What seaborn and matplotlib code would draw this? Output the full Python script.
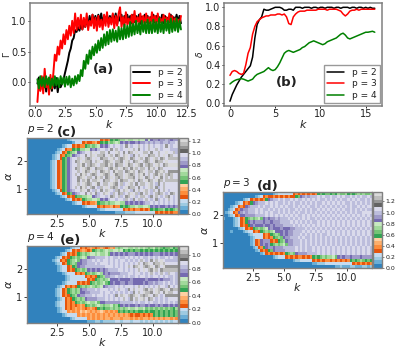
import numpy as np
import pandas as pd
import matplotlib
matplotlib.use("Agg")
import matplotlib.pyplot as plt
import seaborn as sns

# panel (a)
gamma_p2 = [-0.02,0.08,-0.12,0.05,-0.1,0.1,-0.15,0.02,-0.08,0.06,-0.14,0.03,-0.1,0.07,-0.16,0.0,-0.08,-0.02,0.05,0.15,0.25,0.35,0.48,0.55,0.68,0.72,0.85,0.82,0.9,0.84,0.95,0.86,0.98,0.9,1.02,0.92,1.08,0.95,1.1,0.98,1.08,0.96,1.1,1.0,1.12,0.95,1.08,1.0,1.1,0.96,1.08,0.98,1.1,1.0,1.12,0.95,1.08,1.0,1.1,0.96,1.08,0.98,1.1,1.0,1.08,0.96,1.1,0.98,1.08,1.0,1.1,0.95,1.07,1.0,1.1,0.98,1.08,0.96,1.06,1.0,1.1,0.97,1.08,1.0,1.06,0.98,1.1,0.96,1.08,1.0,1.05,0.98,1.1,0.97,1.06,1.0,1.1,0.98,1.08,0.96]
gamma_p3 = [-0.32,0.02,-0.14,0.1,-0.18,0.22,-0.08,0.05,-0.2,0.12,-0.1,0.15,0.45,0.35,0.58,0.45,0.68,0.55,0.78,0.62,0.85,0.7,0.92,0.76,1.0,0.8,1.12,0.85,1.05,0.88,1.1,0.86,1.05,0.9,1.12,0.85,1.0,0.92,1.1,0.88,1.05,0.84,1.08,0.9,1.02,0.86,1.1,0.92,1.14,0.9,1.05,0.94,1.12,0.88,1.08,0.92,1.12,1.22,0.9,1.06,0.9,1.14,0.94,1.04,0.9,1.1,0.96,1.16,0.92,1.06,0.98,1.12,0.94,1.08,0.92,1.12,0.96,1.06,0.94,1.14,0.98,1.08,0.92,1.12,0.96,1.04,0.94,1.1,0.98,1.06,0.92,1.12,0.95,1.08,0.9,1.04,0.98,1.02,0.94,1.08]
gamma_p4 = [0.05,-0.1,0.1,-0.06,0.08,-0.08,0.1,-0.04,0.08,-0.1,0.06,-0.06,0.1,-0.05,0.07,-0.08,0.1,-0.03,0.08,-0.07,0.09,-0.04,0.1,-0.08,0.06,-0.05,0.1,-0.02,0.12,0.02,0.2,0.1,0.35,0.22,0.45,0.3,0.52,0.38,0.58,0.44,0.62,0.48,0.68,0.52,0.72,0.56,0.78,0.6,0.82,0.62,0.85,0.66,0.86,0.68,0.84,0.66,0.9,0.7,0.88,0.7,0.94,0.72,0.92,0.74,0.98,0.76,0.95,0.78,1.0,0.8,0.96,0.78,1.0,0.82,0.98,0.8,1.02,0.8,0.98,0.8,1.02,0.82,0.98,0.8,1.04,0.82,0.98,0.8,1.02,0.84,1.0,0.8,1.04,0.82,1.0,0.84,1.04,0.82,1.0,0.86]

# panel (b)
delta_p2 = [0.02,0.09,0.14,0.19,0.23,0.27,0.3,0.33,0.36,0.39,0.48,0.68,0.82,0.87,0.9,0.98,0.97,0.97,0.98,0.99,1.0,1.0,1.0,0.99,0.97,0.97,0.98,0.98,0.97,1.0,1.0,1.0,0.99,1.0,1.0,1.0,0.99,1.0,1.0,0.99,1.0,1.0,0.99,1.0,1.0,1.0,0.99,1.0,1.0,0.99,1.0,1.0,1.0,0.99,1.0,1.0,0.99,1.0,1.0,0.99,1.0,0.99,1.0,0.99,0.99]
delta_p3 = [0.29,0.33,0.34,0.33,0.31,0.3,0.31,0.4,0.52,0.58,0.72,0.8,0.85,0.87,0.89,0.9,0.91,0.91,0.92,0.92,0.92,0.93,0.93,0.92,0.93,0.9,0.83,0.82,0.9,0.93,0.95,0.96,0.96,0.96,0.97,0.97,0.97,0.97,0.97,0.98,0.98,0.98,0.98,0.97,0.98,0.98,0.98,0.98,0.97,0.96,0.93,0.91,0.93,0.96,0.97,0.97,0.98,0.97,0.98,0.98,0.98,0.98,0.98,0.98,0.98]
delta_p4 = [0.2,0.22,0.235,0.245,0.25,0.255,0.25,0.24,0.23,0.24,0.25,0.28,0.3,0.31,0.32,0.33,0.35,0.37,0.35,0.34,0.35,0.38,0.42,0.47,0.52,0.54,0.55,0.54,0.53,0.54,0.55,0.56,0.58,0.59,0.61,0.63,0.64,0.65,0.64,0.63,0.62,0.61,0.62,0.64,0.65,0.66,0.67,0.68,0.7,0.72,0.73,0.71,0.68,0.67,0.68,0.69,0.7,0.71,0.72,0.73,0.74,0.74,0.745,0.75,0.74]

# heatmaps: one char = one tab20c band, top row is the highest alpha
grid_c = [
    "0000000000000000123333333333345458989aabaabbabbcbcddcddedcdd",
    "00000000000000000013334544564898a9abacdcdccdcddededeedeedeef",
    "00000000000000123345455" "89a9abcdcefeffefhfeffifefifeffefhfeff",
    "000000000000123455" "898aabbcdceffefhfifeffjfifhfefiffifefffe",
    "0000000000012345" "89abcdeffifjfiifhffjifhfhifjffiifhffiffjffie",
    "000000000012345" "89acdeffhfijfiihfjifhifijfehfifjfhiififjfhif",
    "00000000001234" "89ceffijfihifjfhiifjifihijfhifjifhifjifhifi",
    "00000000012345" "89cefhifjiihfijfihijfiihfjifhijfihifjhiifjff",
    "00000000012345" "89ceffijhfihijfiihjifhiifjhifjihfihifjifhij",
    "00000000012345" "89cefhifjihjfhiijfihjifjhifhjifiifhjifhif",
    "00000000012345" "89ceffifjhifjifhijifhjiifhijifhijfiifhijifh",
    "00000000012345" "89cefifhjifihifjihifjhiifjihifijhfifihjifihif",
    "00000000012345" "89ceffhijfiifhjifhijfihifjiihfijfhififjhfifif",
    "00000000012345" "89ceffhfijhfiijfhiifjifhiifjifhifjhifjhifi",
    "00000000012345" "89ceffifjihifjhfiifjihfiefjifhfiifjifehfiff",
    "00000000012345" "89cefifhjifihfeifjfihifefjhiifhfefjifhefiff",
    "00000000001234" "89cdeffijfhfeifhfijfeihfijfehfifjifeifhfifef",
    "0000000000012345" "89cdeffhfifhefijfeifhiefijfiehfifefihifefhife",
    "0000000000000123454" "899aabbcdeffefhifiefhifjefiifehfifefihfefifefefhf",
    "000000000000000123" "454589aabbacdceffeffeifehfiefifefhefefifefefe",
    "000000000000000000123345" "4556899a9aabbaacdcdcdcdeefefefefefefefeefe",
    "0000000000000000000000123333" "4545564558989aabaabbacdcdccdcdcdc",
    "0000000000000000000000000000122333333345454554545" "89899a8989a9",
    "00000000000000000000000000000000000111122223333333345454545",
]
grid_d = [
    "0000000000000000000012333333454545454589899898a99a8989a9a99a8",
    "00000000000001234544545454544" "89cdedeeefefeefeefefeefefefeefeefefeef",
    "00000000123454545" "8cdeefefeefefeefefefefeefefefefeefefefeefefef",
    "00000123454" "8cdeeefefefeefefefeefefefefeefefefefefeefefefefef",
    "000123454cdeeefefeefefefefeefefefefeefefefefefefefefeefefef",
    "0012345cddeeefefeefefefefefeefefefefeefefefefefefeefefefefe",
    "012345cdedeeefefefefeefefefefefeefefefefefefefefefefefeef",
    "0012345ccddddeeeefefefefefefefeefefefefefefefefefefefefefefe",
    "100012345" "89a9ab9cdcddedeeefefefefefeefefefefefefefefefefefefefefef",
    "000012345" "8cdcdddcddcdddeeeefefefefefeefefefefefefefefefefefefe",
    "0000123454" "8cdcccdccdcdddeeeefefefefefefefefefefefefefefefefefe",
    "000000123454" "89a9abcdcccdcccddeeeefefefefefefefefefefefefefefefef",
    "000100001233454" "89a9abcccdcddeeeefefefefefefefefefefefefefefefefef",
    "0000000000123333454" "89a9cdcddeeefefefefefeefefefefefefefefefefefefe",
    "00000000000123334545" "89a9cddeeefefeefefefefefefefefefefefefefefef",
    "00000000000124" "5cddd45489acddeeefefefefefefefefefefefefefefefefefef",
    "0000000000012" "45cdcd89a9ab9ddeeefefefefefefefefefefefefefefefefefe",
    "00000000000012458cddcdddeeeeefefefeefefefefefefefefefefefefefe",
    "0000000000000124548" "9cddddeeeefefefeefefefefefefefefefefefefefefe",
    "0000000000000001245454545" "89a9cddddeeeefefefefefefefefefefefefefe",
    "0000000000000000000012333" "454545545458989a9aab9cdcddcdddcdddd",
    "000000000000000000000000000012233333454545545454545" "8989a9898a",
    "0000000000000000000000000000000000001122233333333333" "45454545",
    "000000000000000000000000000000000000000000000112111221112212",
]
grid_e = [
    "00000000000000000123345456545654565a9abbaabababa9ab9a9899a89",
    "00000000000000012345456545" "89a9abaabbab898989989898989898989898",
    "00000000000001234545" "89a9abbabaab9cdcdcdcdddcdcdcdcdddcdcdcdcd",
    "00000000000123454" "89a9abacddeeeefefeefeefefefefeefefefeefefe",
    "0000000000123454" "89ab9cddeefefeffefefeffefefefifefhfifjfe",
    "0000000000012345" "89a9ccddeeefefffefefefefefefifhijfhiijif",
    "000000000000123345" "89cddeeeeeeeefffefefefifhijfihijfhifjh",
    "0000000000001233454" "89a9acdcdcdcdeeeeffefefefifjfihjifhi",
    "00000000000000123334545" "89a9abacdcddddeeeffeffefefifefifeiffef",
    "00000000000000012333333" "4545489addeefeefefeefeffefeffefefeefefef",
    "000000000000000123333333454" "89a9abcccdccccdcccccdccccdcdddefefefef",
    "00000000000000123333454548" "9a9ab98cdccddcddccccdcddedeefefefef",
    "00000000000012345454" "89a9aba9abcdeeefefefffefifefefefiffehfef",
    "0000000000012345" "89a9acddeeefefffefefiffehfifjfihjifjihijfhi",
    "0000000000012345" "89a9accddeeeefeffefefefefehfifjiihfjifhjiif",
    "00000000000123454" "89acddeeefeffefefehfijfihijfihijfhifefh",
    "000000000000123454" "89a9acddddeeefefefefifehfifjifhifefefef",
    "0000000000012334545" "89a9abaab9ccddddddeeeeefefeefefeefefefefe",
    "00000000000123345454565" "89a9aba9aab9a8cdcdccdcddcdccdcdccdcdccd",
    "0000000000001234545656545654" "89899a9a9a9abaabaab9a9a9a9a9a98a9",
    "000000000000123356565767656567656565" "8989898988989889898989898",
    "0000000000000012333356565656565656565656545445454589898989894",
    "000000000000000001233333565656566566656665656566565656566565",
    "00000000000000000000000011122122222332333233323232323232323",
]

BANDS = "0123456789abcdefghij"
K_LO, K_HI = 0.14, 12.0
A_LO, A_HI = 0.1, 2.8
W, H = 399, 348


def px_axes(fig, x0, y0, x1, y1):
    # axes from picture pixels, y counted from the top
    return fig.add_axes([x0 / W, 1 - y1 / H, (x1 - x0) / W, (y1 - y0) / H])


def grid_frame(rows, vmax):
    n_cols = 60
    vals = []
    for r in rows:
        r = r[:n_cols].ljust(n_cols, r[-1])
        vals.append([(BANDS.index(c) + 0.5) / 20 * vmax for c in r])
    return pd.DataFrame(vals)


def line_panel(ax, k, series, ylab, ylab_x):
    for vals, name, col, lw in series:
        sns.lineplot(x=k, y=vals, ax=ax, color=col, label=name, lw=lw, estimator=None, sort=False)
    ax.set_xlabel("$k$", fontsize=8, labelpad=-1)
    ax.set_ylabel(ylab, fontsize=6.5)
    ax.yaxis.set_label_coords(ylab_x, 0.5)
    ax.tick_params(labelsize=7, length=1.5, width=0.7, pad=1)
    ax.legend(loc="lower right", fontsize=6.5, fancybox=False, borderpad=0.35, labelspacing=0.25, handlelength=1.9, edgecolor="#999999", framealpha=1, bbox_to_anchor=(0.985, 0.03), borderaxespad=0)


def heat_panel(fig, box, cbox, rows, vmax, cticks, title, tag, tag_x):
    ax = px_axes(fig, *box)
    cax = px_axes(fig, *cbox)
    df = grid_frame(rows, vmax)
    sns.heatmap(df, ax=ax, cbar_ax=cax, cmap="tab20c", vmin=0, vmax=vmax, xticklabels=False, yticklabels=False, cbar_kws={"ticks": cticks})
    n_rows, n_cols = df.shape
    k_ticks = [2.5, 5.0, 7.5, 10.0]
    a_ticks = [1, 2]
    ax.set_xticks([(t - K_LO) / (K_HI - K_LO) * n_cols for t in k_ticks])
    ax.set_xticklabels([str(t) for t in k_ticks])
    ax.set_yticks([(A_HI - t) / (A_HI - A_LO) * n_rows for t in a_ticks])
    ax.set_yticklabels([str(t) for t in a_ticks], rotation=0)
    ax.tick_params(labelsize=7, length=2, width=0.6, pad=1.5, left=True, bottom=True)
    ax.set_xlabel("$k$", fontsize=8, labelpad=-1.5)
    ax.set_ylabel(r"$\alpha$", fontsize=8)
    ax.yaxis.set_label_coords(-0.085, 0.5)
    for s in ax.spines.values():
        s.set_visible(True)
        s.set_color("#808080")
        s.set_linewidth(1.0)
    cax.tick_params(labelsize=4.5, length=1.5, width=0.4, pad=1)
    cbar = ax.collections[0].colorbar
    cbar.outline.set_visible(True)
    cbar.outline.set_edgecolor("#808080")
    cbar.outline.set_linewidth(1.0)
    ax.text(0.0, 1.02, title, transform=ax.transAxes, fontsize=7.5, va="bottom")
    ax.text(tag_x, 0.99, tag, transform=ax.transAxes, fontsize=9.5, fontweight="bold", va="bottom")


def main():
    sns.set_style("ticks", {"axes.edgecolor": "#808080", "xtick.color": "#222222", "ytick.color": "#222222", "text.color": "#222222", "axes.labelcolor": "#222222"})
    plt.rcParams["font.family"] = ["DejaVu Sans"]
    plt.rcParams["axes.linewidth"] = 1.1
    fig = plt.figure(figsize=(W / 100, H / 100), dpi=100)

    ax_a = px_axes(fig, 30, 3, 188, 106)
    k_a = np.linspace(0.2, 12, len(gamma_p2))
    line_panel(ax_a, k_a, [(gamma_p2, "p = 2", "black", 1.4), (gamma_p3, "p = 3", "red", 1.4), (gamma_p4, "p = 4", "green", 1.4)], r"$\Gamma$", -0.113)
    ax_a.set_xlim(-0.41, 12.58)
    ax_a.set_ylim(-0.385, 1.29)
    ax_a.set_yticks([0.0, 0.5, 1.0])
    ax_a.set_xticks([0, 2.5, 5, 7.5, 10, 12.5])
    ax_a.text(0.40, 0.35, "(a)", transform=ax_a.transAxes, fontsize=9.5, fontweight="bold", va="center")

    ax_b = px_axes(fig, 224, 3, 382, 106)
    k_b = np.linspace(0, 16, len(delta_p2))
    line_panel(ax_b, k_b, [(delta_p2, "p = 2", "black", 1.1), (delta_p3, "p = 3", "red", 1.1), (delta_p4, "p = 4", "green", 1.1)], r"$\delta$", -0.12)
    ax_b.set_xlim(-0.66, 16.8)
    ax_b.set_ylim(-0.03, 1.045)
    ax_b.set_xticks([0, 5, 10, 15])
    ax_b.set_yticks([0.0, 0.2, 0.4, 0.6, 0.8, 1.0])
    ax_b.text(0.33, 0.23, "(b)", transform=ax_b.transAxes, fontsize=9.5, fontweight="bold", va="center")

    heat_panel(fig, (27, 138, 178, 214), (179, 138, 188, 214), grid_c, 1.25, [0.0, 0.2, 0.4, 0.6, 0.8, 1.0, 1.2], "$p = 2$", "(c)", 0.2)
    heat_panel(fig, (223, 192, 372, 268), (373, 192, 382, 268), grid_d, 1.37, [0.0, 0.2, 0.4, 0.6, 0.8, 1.0, 1.2], "$p = 3$", "(d)", 0.23)
    heat_panel(fig, (27, 246, 178, 323), (179, 246, 188, 323), grid_e, 1.14, [0.0, 0.2, 0.4, 0.6, 0.8, 1.0], "$p = 4$", "(e)", 0.22)

    fig.savefig("out.png", dpi=100)


if __name__ == "__main__":
    main()
